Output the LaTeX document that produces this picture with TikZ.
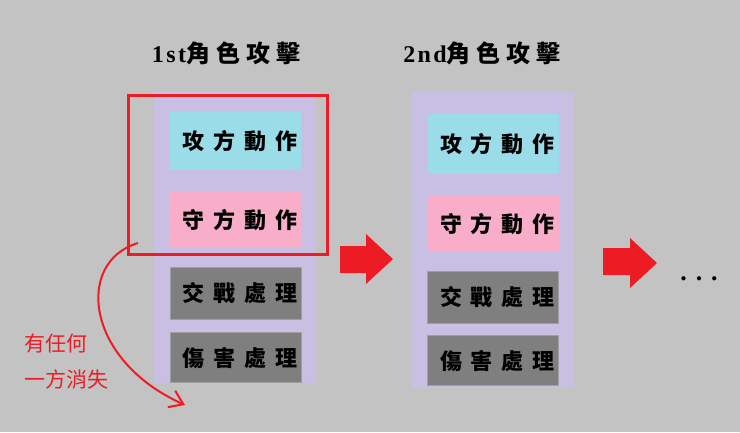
\documentclass[tikz,border=0pt]{standalone}
\usepackage{fontspec}
\usetikzlibrary{positioning,arrows.meta}
\newfontfamily\cjk{Noto Sans CJK TC}
\newfontfamily\cjkwide[LetterSpace=40]{Noto Sans CJK TC}
\newfontfamily\titlecjk[LetterSpace=25]{Noto Sans CJK TC}
\newfontfamily\titlelatin[LetterSpace=10]{Liberation Serif}
\definecolor{bggray}{HTML}{C3C3C3}
\definecolor{lavender}{HTML}{C9BFE3}
\definecolor{atkcyan}{HTML}{9BDCE9}
\definecolor{defpink}{HTML}{F8AEC9}
\definecolor{procgray}{HTML}{7F7F7F}
\definecolor{alertred}{HTML}{ED1C24}
\newcommand{\boxtext}[1]{\hspace*{0.4em}#1}

\begin{document}
\begin{tikzpicture}[x=1pt,y=-1pt]

% definitions
\tikzstyle{panel} = [rectangle, minimum width=162pt, fill=lavender, inner sep=0pt]

\tikzstyle{stepA} = [rectangle, minimum width=131pt, minimum height=58pt, fill=atkcyan, font=\fontsize{22pt}{24pt}\cjkwide\bfseries]

\tikzstyle{stepB} = [rectangle, minimum width=131pt, minimum height=56pt, fill=defpink, font=\fontsize{22pt}{24pt}\cjkwide\bfseries]

\tikzstyle{stepC} = [rectangle, minimum width=131pt, minimum height=52pt, fill=procgray, draw=gray!75, line width=0.8pt, font=\fontsize{22pt}{24pt}\cjkwide\bfseries]

\tikzstyle{stepD} = [stepC, minimum height=50pt]

\tikzstyle{title} = [anchor=base, inner sep=0pt, font=\fontsize{24pt}{26pt}\titlecjk\bfseries]

\tikzstyle{note} = [anchor=west, inner sep=0pt, text=alertred, font=\fontsize{21pt}{23pt}\cjk]

\tikzstyle{arrow} = [-{Straight Barb[length=13pt,width=18pt]}, draw=alertred, line width=2pt]

\useasboundingbox (0,0) rectangle (740,432);
\fill[bggray] (0,0) rectangle (740,432);


% 1st round
\node (title1) [title] at (226,62) {{\titlelatin\bfseries 1st}角色攻擊};
\node (panel1) [panel, minimum height=291pt] at (235,237.5) {};
\node (atk1) [stepA] at (235.5,141) {\boxtext{攻方動作}};
\node (def1) [stepB, below=22pt of atk1] {\boxtext{守方動作}};
\node (fight1) [stepC, below=18pt of def1] {\boxtext{交戰處理}};
\node (dmg1) [stepD, below=13pt of fight1] {\boxtext{傷害處理}};

\node (round1) [rectangle, draw=alertred, line width=3pt, minimum width=199pt, minimum height=159pt] at (227.5,174.5) {};

\fill[alertred] (340,246) -- (366,246) -- (366,234) -- (393,259) -- (366,284) -- (366,273) -- (340,273) -- cycle;


% 2nd round
\node (title2) [title] at (482,62) {{\titlelatin\bfseries 2nd}角色攻擊};
\node (panel2) [panel, minimum height=296pt] at (493,240) {};
\node (atk2) [stepA, minimum height=60pt] at (493,144) {\boxtext{攻方動作}};
\node (def2) [stepB, below=22pt of atk2] {\boxtext{守方動作}};
\node (fight2) [stepC, below=18pt of def2] {\boxtext{交戰處理}};
\node (dmg2) [stepD, below=12pt of fight2] {\boxtext{傷害處理}};

\fill[alertred] (603,248) -- (630,248) -- (630,238) -- (657,263) -- (630,288) -- (630,275) -- (603,275) -- cycle;

\node (more) [anchor=base, inner sep=0pt, font=\fontsize{26pt}{28pt}\titlelatin\bfseries] at (699,280) {.\hspace{9pt}.\hspace{9pt}.};


% early exit
\node (vanish1) [note] at (24,344) {有任何};
\node (vanish2) [note] at (24,379) {一方消失};

\coordinate (exitfrom) at (138,243);
\coordinate (exitto) at (185,405);
\draw [arrow] (exitfrom) .. controls (75,262) and (85,360) .. (exitto);

\end{tikzpicture}
\end{document}
